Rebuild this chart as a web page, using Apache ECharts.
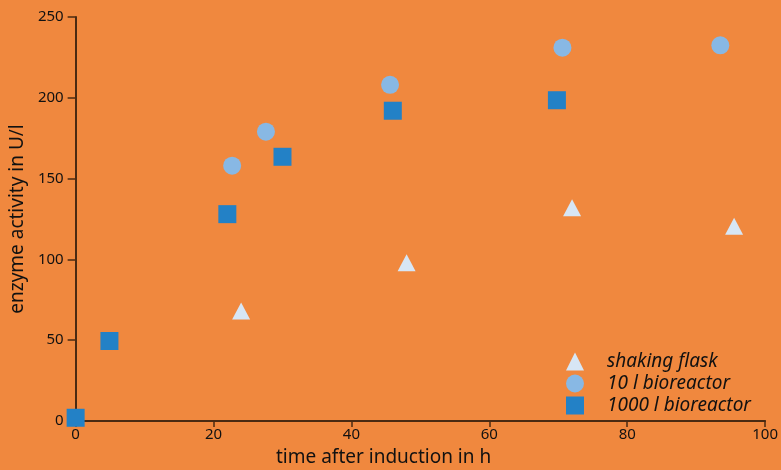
<!DOCTYPE html>
<html><head><meta charset="utf-8">
<script src="https://cdn.jsdelivr.net/npm/echarts@6/dist/echarts.min.js"></script>
<style>html,body{margin:0;padding:0;background:#F0883E}#c{width:781px;height:470px}</style>
</head><body><div id="c"></div>
<script>
const seriesNames = ['shaking flask', '10 l bioreactor', '1000 l bioreactor'];
const shakingFlask = [[24, 68], [48, 98], [72, 132], [95.5, 120.5]];
const bioreactor10 = [[22.7, 158], [27.6, 179], [45.6, 208], [70.6, 231], [93.5, 232.5]];
const bioreactor1000 = [[0, 2], [4.9, 49.5], [22, 128], [30, 163.5], [46, 192], [69.8, 198.5]];
const xTicks = [0, 20, 40, 60, 80, 100];
const yTicks = [0, 50, 100, 150, 200, 250];

const axisColor = '#4a2a12';
const font = 'Noto Sans';
const chart = echarts.init(document.getElementById('c'));
chart.setOption({
  backgroundColor: '#F0883E',
  animation: false,
  grid: {left: 75, right: 15, top: 17, bottom: 49},
  xAxis: {
    type: 'value', min: xTicks[0], max: xTicks[xTicks.length - 1], interval: 20,
    axisLine: {show: true, lineStyle: {color: axisColor, width: 2}},
    axisTick: {show: true, length: 6, lineStyle: {color: axisColor, width: 1.5}},
    axisLabel: {color: '#111', fontFamily: font, fontSize: 15, margin: 6},
    splitLine: {show: false}
  },
  yAxis: {
    type: 'value', min: yTicks[0], max: yTicks[yTicks.length - 1], interval: 50,
    name: 'enzyme activity in U/l', nameLocation: 'middle', nameGap: 39,
    nameTextStyle: {color: '#111', fontFamily: font, fontSize: 19},
    axisLine: {show: true, lineStyle: {color: axisColor, width: 2}},
    axisTick: {show: true, length: 8, lineStyle: {color: axisColor, width: 1.5}},
    axisLabel: {color: '#111', fontFamily: font, fontSize: 15, margin: 12},
    splitLine: {show: false}
  },
  graphic: [{
    type: 'text', left: 276, top: 448,
    style: {text: 'time after induction in h', fill: '#111', font: '19px "Noto Sans"'}
  }],
  legend: {
    orient: 'vertical', left: 561, top: 347, itemWidth: 18, itemHeight: 18, itemGap: 3,
    textStyle: {color: '#111', fontFamily: font, fontSize: 19, fontStyle: 'italic', padding: [0, 0, 0, 18]},
    data: seriesNames
  },
  series: [
    {name: seriesNames[0], type: 'scatter', symbol: 'triangle', symbolSize: [18, 17], data: shakingFlask,
     itemStyle: {color: '#D7E6F5', opacity: 1}},
    {name: seriesNames[1], type: 'scatter', symbol: 'circle', symbolSize: 18, data: bioreactor10,
     itemStyle: {color: '#88B8E4', opacity: 1}},
    {name: seriesNames[2], type: 'scatter', symbol: 'rect', symbolSize: 18, data: bioreactor1000,
     itemStyle: {color: '#2381C6', opacity: 1}}
  ]
});
</script></body></html>
